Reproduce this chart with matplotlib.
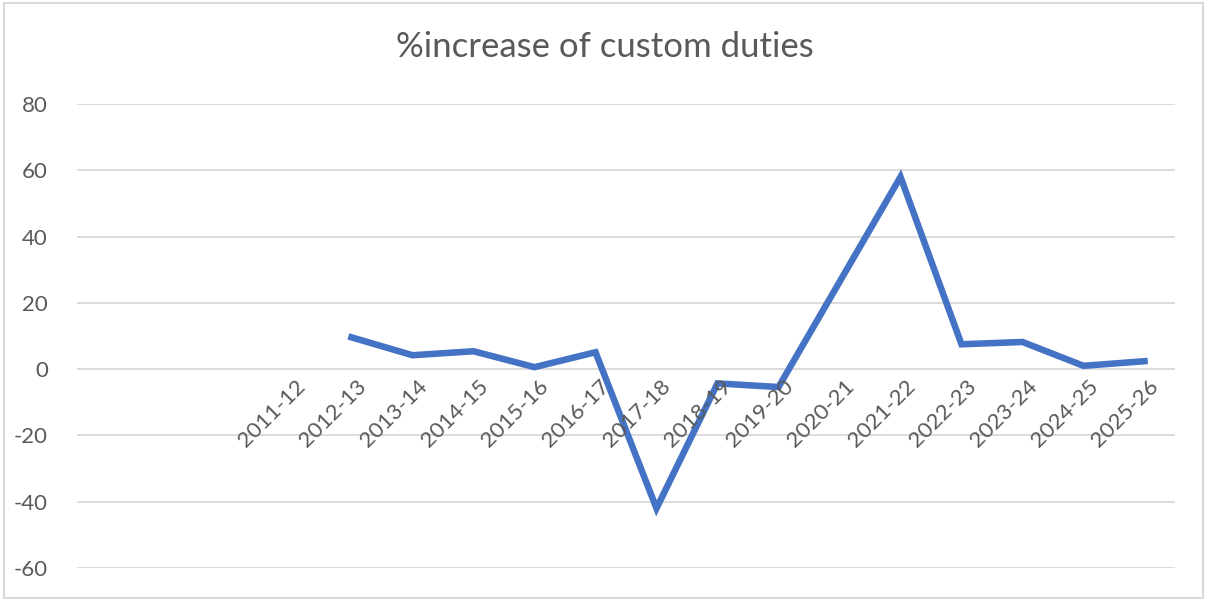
import matplotlib
matplotlib.use('Agg')
import matplotlib.pyplot as plt
from matplotlib.patches import Rectangle

plt.rcParams['font.family'] = ['Lato', 'DejaVu Sans']

# categories (three blank ones come first, like in the sheet)
years = ['', '', '', '2011-12', '2012-13', '2013-14', '2014-15', '2015-16', '2016-17',
         '2017-18', '2018-19', '2019-20', '2020-21', '2021-22', '2022-23',
         '2023-24', '2024-25', '2025-26']
pct_increase = [None, None, None, None, 9.6, 4.2, 5.4, 0.6, 5.1,
                -42.0, -4.3, -5.4, 26.3, 58.0, 7.5, 8.2, 1.0, 2.4]
yticks = [-60, -40, -20, 0, 20, 40, 60, 80]

grey = '#595959'
blue = '#4472C4'

fig = plt.figure(figsize=(12.05, 6.0), dpi=100)
fig.patches.append(Rectangle((4 / 1205, 2 / 600), 1199 / 1205, 595 / 600,
                             transform=fig.transFigure, fill=False,
                             edgecolor='#d9d9d9', linewidth=1.5))

ax = fig.add_axes([77 / 1205, 1 - 568 / 600, (1175 - 77) / 1205, (568 - 104) / 600])

xs = [i for i, v in enumerate(pct_increase) if v is not None]
ys = [v for v in pct_increase if v is not None]
ax.plot(xs, ys, color=blue, linewidth=4.7, solid_joinstyle='miter', zorder=3)

ax.set_xlim(-0.5, len(years) - 0.5)
ax.set_ylim(-60, 80)
ax.set_yticks(yticks)
ax.set_yticklabels([str(t) for t in yticks], color=grey, fontsize=16)
ax.tick_params(axis='y', length=0, pad=21)
ax.set_xticks([])
ax.grid(axis='y', color='#d9d9d9', linewidth=1.3)
ax.set_axisbelow(True)
for s in ax.spines.values():
    s.set_visible(False)

# category labels sit just under the zero line, rotated like excel
for i, lab in enumerate(years):
    ax.annotate(lab, xy=(i, 0), xytext=(3, -5), textcoords='offset points',
                rotation=45, rotation_mode='anchor', ha='right', va='top',
                color=grey, fontsize=16)

fig.text(0.502, 1 - 47 / 600, '%increase of custom duties', ha='center', va='center',
         color=grey, fontsize=25)

fig.savefig('out.png', dpi=100)
